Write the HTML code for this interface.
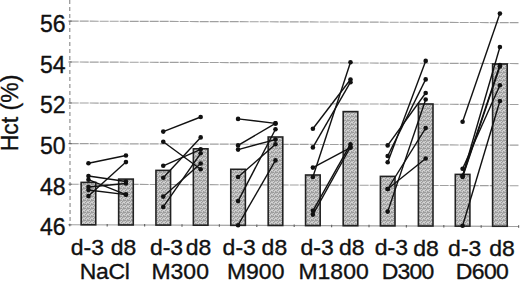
<!DOCTYPE html><html><head><meta charset="utf-8"><style>html,body{margin:0;padding:0;background:#fff;width:520px;height:282px;overflow:hidden}svg{display:block}text{font-family:"Liberation Sans",sans-serif;font-size:23px;fill:#111;stroke:#111;stroke-width:0.35px}</style></head><body>
<svg width="520" height="282" viewBox="0 0 520 282">
<defs><pattern id="st" width="4" height="4" patternUnits="userSpaceOnUse"><rect width="4" height="4" fill="#bbbbbb"/><rect x="0" y="0" width="1" height="1" fill="#9c9c9c"/><rect x="1" y="0" width="1" height="1" fill="#9c9c9c"/><rect x="3" y="0" width="1" height="1" fill="#9c9c9c"/><rect x="1" y="1" width="1" height="1" fill="#d4d4d4"/><rect x="2" y="1" width="1" height="1" fill="#9c9c9c"/><rect x="0" y="2" width="1" height="1" fill="#d4d4d4"/><rect x="1" y="2" width="1" height="1" fill="#9c9c9c"/><rect x="3" y="2" width="1" height="1" fill="#d4d4d4"/><rect x="2" y="3" width="1" height="1" fill="#d4d4d4"/><rect x="3" y="3" width="1" height="1" fill="#9c9c9c"/></pattern></defs>
<line x1="69.7" y1="21.10" x2="518.5" y2="22.67" stroke="#a0a0a0" stroke-width="1.15" stroke-dasharray="9 1"/>
<line x1="69.7" y1="62.00" x2="518.5" y2="63.57" stroke="#a0a0a0" stroke-width="1.15" stroke-dasharray="9 1"/>
<line x1="69.7" y1="102.95" x2="518.5" y2="104.52" stroke="#a0a0a0" stroke-width="1.15" stroke-dasharray="9 1"/>
<line x1="69.7" y1="143.60" x2="518.5" y2="145.17" stroke="#a0a0a0" stroke-width="1.15" stroke-dasharray="9 1"/>
<line x1="69.7" y1="184.20" x2="518.5" y2="185.77" stroke="#a0a0a0" stroke-width="1.15" stroke-dasharray="9 1"/>
<line x1="69.70" y1="0" x2="70.10" y2="224.75" stroke="#9a9a9a" stroke-width="1.3" stroke-dasharray="4 3"/>
<line x1="68.50" y1="21.10" x2="71.70" y2="21.10" stroke="#666" stroke-width="1.1"/>
<line x1="68.50" y1="62.00" x2="71.70" y2="62.00" stroke="#666" stroke-width="1.1"/>
<line x1="68.50" y1="102.95" x2="71.70" y2="102.95" stroke="#666" stroke-width="1.1"/>
<line x1="68.50" y1="143.60" x2="71.70" y2="143.60" stroke="#666" stroke-width="1.1"/>
<line x1="68.50" y1="184.20" x2="71.70" y2="184.20" stroke="#666" stroke-width="1.1"/>
<line x1="68.50" y1="224.75" x2="71.70" y2="224.75" stroke="#666" stroke-width="1.1"/>
<line x1="69.70" y1="224.75" x2="518.5" y2="226.32" stroke="#a0a0a0" stroke-width="1.2"/>
<line x1="69.80" y1="223.75" x2="69.80" y2="226.25" stroke="#666" stroke-width="1.2"/>
<line x1="107.20" y1="223.88" x2="107.20" y2="226.38" stroke="#666" stroke-width="1.2"/>
<line x1="144.60" y1="224.01" x2="144.60" y2="226.51" stroke="#666" stroke-width="1.2"/>
<line x1="182.00" y1="224.14" x2="182.00" y2="226.64" stroke="#666" stroke-width="1.2"/>
<line x1="219.40" y1="224.27" x2="219.40" y2="226.77" stroke="#666" stroke-width="1.2"/>
<line x1="256.80" y1="224.40" x2="256.80" y2="226.90" stroke="#666" stroke-width="1.2"/>
<line x1="294.20" y1="224.54" x2="294.20" y2="227.04" stroke="#666" stroke-width="1.2"/>
<line x1="331.60" y1="224.67" x2="331.60" y2="227.17" stroke="#666" stroke-width="1.2"/>
<line x1="369.00" y1="224.80" x2="369.00" y2="227.30" stroke="#666" stroke-width="1.2"/>
<line x1="406.40" y1="224.93" x2="406.40" y2="227.43" stroke="#666" stroke-width="1.2"/>
<line x1="443.80" y1="225.06" x2="443.80" y2="227.56" stroke="#666" stroke-width="1.2"/>
<line x1="481.20" y1="225.19" x2="481.20" y2="227.69" stroke="#666" stroke-width="1.2"/>
<line x1="518.60" y1="225.32" x2="518.60" y2="227.82" stroke="#666" stroke-width="1.2"/>
<rect x="81.15" y="182.40" width="14.60" height="42.42" fill="url(#st)" stroke="#222" stroke-width="1.6"/>
<rect x="118.66" y="179.10" width="14.60" height="45.85" fill="url(#st)" stroke="#222" stroke-width="1.6"/>
<rect x="155.96" y="170.40" width="14.60" height="54.68" fill="url(#st)" stroke="#222" stroke-width="1.6"/>
<rect x="193.37" y="148.80" width="14.60" height="76.41" fill="url(#st)" stroke="#222" stroke-width="1.6"/>
<rect x="230.77" y="169.30" width="14.60" height="56.04" fill="url(#st)" stroke="#222" stroke-width="1.6"/>
<rect x="268.18" y="137.00" width="14.60" height="88.47" fill="url(#st)" stroke="#222" stroke-width="1.6"/>
<rect x="305.58" y="175.00" width="14.60" height="50.60" fill="url(#st)" stroke="#222" stroke-width="1.6"/>
<rect x="343.19" y="111.60" width="14.60" height="114.13" fill="url(#st)" stroke="#222" stroke-width="1.6"/>
<rect x="380.39" y="176.40" width="14.60" height="49.46" fill="url(#st)" stroke="#222" stroke-width="1.6"/>
<rect x="418.39" y="104.00" width="14.60" height="122.00" fill="url(#st)" stroke="#222" stroke-width="1.6"/>
<rect x="455.30" y="174.40" width="14.60" height="51.73" fill="url(#st)" stroke="#222" stroke-width="1.6"/>
<rect x="492.61" y="64.00" width="14.60" height="162.26" fill="url(#st)" stroke="#222" stroke-width="1.6"/>
<line x1="88.45" y1="163.30" x2="125.95" y2="155.50" stroke="#111" stroke-width="1.4"/>
<line x1="88.45" y1="196.10" x2="125.95" y2="162.10" stroke="#111" stroke-width="1.4"/>
<line x1="88.45" y1="176.00" x2="125.95" y2="181.50" stroke="#111" stroke-width="1.4"/>
<line x1="88.45" y1="179.70" x2="125.95" y2="194.60" stroke="#111" stroke-width="1.4"/>
<line x1="88.45" y1="187.00" x2="125.95" y2="183.50" stroke="#111" stroke-width="1.4"/>
<line x1="88.45" y1="190.00" x2="125.95" y2="194.60" stroke="#111" stroke-width="1.4"/>
<circle cx="88.45" cy="163.30" r="2.3" fill="#111"/>
<circle cx="125.95" cy="155.50" r="2.3" fill="#111"/>
<circle cx="88.45" cy="196.10" r="2.3" fill="#111"/>
<circle cx="125.95" cy="162.10" r="2.3" fill="#111"/>
<circle cx="88.45" cy="176.00" r="2.3" fill="#111"/>
<circle cx="125.95" cy="181.50" r="2.3" fill="#111"/>
<circle cx="88.45" cy="179.70" r="2.3" fill="#111"/>
<circle cx="125.95" cy="194.60" r="2.3" fill="#111"/>
<circle cx="88.45" cy="187.00" r="2.3" fill="#111"/>
<circle cx="125.95" cy="183.50" r="2.3" fill="#111"/>
<circle cx="88.45" cy="190.00" r="2.3" fill="#111"/>
<circle cx="125.95" cy="194.60" r="2.3" fill="#111"/>
<line x1="163.26" y1="131.60" x2="200.67" y2="117.00" stroke="#111" stroke-width="1.4"/>
<line x1="163.26" y1="141.70" x2="200.67" y2="169.30" stroke="#111" stroke-width="1.4"/>
<line x1="163.26" y1="165.80" x2="200.67" y2="149.30" stroke="#111" stroke-width="1.4"/>
<line x1="163.26" y1="177.70" x2="200.67" y2="137.40" stroke="#111" stroke-width="1.4"/>
<line x1="163.26" y1="196.60" x2="200.67" y2="163.50" stroke="#111" stroke-width="1.4"/>
<line x1="163.26" y1="206.90" x2="200.67" y2="153.30" stroke="#111" stroke-width="1.4"/>
<circle cx="163.26" cy="131.60" r="2.3" fill="#111"/>
<circle cx="200.67" cy="117.00" r="2.3" fill="#111"/>
<circle cx="163.26" cy="141.70" r="2.3" fill="#111"/>
<circle cx="200.67" cy="169.30" r="2.3" fill="#111"/>
<circle cx="163.26" cy="165.80" r="2.3" fill="#111"/>
<circle cx="200.67" cy="149.30" r="2.3" fill="#111"/>
<circle cx="163.26" cy="177.70" r="2.3" fill="#111"/>
<circle cx="200.67" cy="137.40" r="2.3" fill="#111"/>
<circle cx="163.26" cy="196.60" r="2.3" fill="#111"/>
<circle cx="200.67" cy="163.50" r="2.3" fill="#111"/>
<circle cx="163.26" cy="206.90" r="2.3" fill="#111"/>
<circle cx="200.67" cy="153.30" r="2.3" fill="#111"/>
<line x1="238.07" y1="118.90" x2="275.48" y2="123.40" stroke="#111" stroke-width="1.4"/>
<line x1="238.07" y1="145.40" x2="275.48" y2="123.40" stroke="#111" stroke-width="1.4"/>
<line x1="238.07" y1="149.60" x2="275.48" y2="139.60" stroke="#111" stroke-width="1.4"/>
<line x1="238.07" y1="177.00" x2="275.48" y2="144.30" stroke="#111" stroke-width="1.4"/>
<line x1="238.07" y1="201.10" x2="275.48" y2="129.20" stroke="#111" stroke-width="1.4"/>
<line x1="238.07" y1="225.20" x2="275.48" y2="160.40" stroke="#111" stroke-width="1.4"/>
<circle cx="238.07" cy="118.90" r="2.3" fill="#111"/>
<circle cx="275.48" cy="123.40" r="2.3" fill="#111"/>
<circle cx="238.07" cy="145.40" r="2.3" fill="#111"/>
<circle cx="275.48" cy="123.40" r="2.3" fill="#111"/>
<circle cx="238.07" cy="149.60" r="2.3" fill="#111"/>
<circle cx="275.48" cy="139.60" r="2.3" fill="#111"/>
<circle cx="238.07" cy="177.00" r="2.3" fill="#111"/>
<circle cx="275.48" cy="144.30" r="2.3" fill="#111"/>
<circle cx="238.07" cy="201.10" r="2.3" fill="#111"/>
<circle cx="275.48" cy="129.20" r="2.3" fill="#111"/>
<circle cx="238.07" cy="225.20" r="2.3" fill="#111"/>
<circle cx="275.48" cy="160.40" r="2.3" fill="#111"/>
<line x1="312.88" y1="128.70" x2="350.49" y2="79.50" stroke="#111" stroke-width="1.4"/>
<line x1="312.88" y1="147.40" x2="350.49" y2="82.20" stroke="#111" stroke-width="1.4"/>
<line x1="312.88" y1="177.00" x2="350.49" y2="62.20" stroke="#111" stroke-width="1.4"/>
<line x1="312.88" y1="167.60" x2="350.49" y2="147.70" stroke="#111" stroke-width="1.4"/>
<line x1="312.88" y1="210.80" x2="350.49" y2="144.20" stroke="#111" stroke-width="1.4"/>
<line x1="312.88" y1="214.60" x2="350.49" y2="147.00" stroke="#111" stroke-width="1.4"/>
<circle cx="312.88" cy="128.70" r="2.3" fill="#111"/>
<circle cx="350.49" cy="79.50" r="2.3" fill="#111"/>
<circle cx="312.88" cy="147.40" r="2.3" fill="#111"/>
<circle cx="350.49" cy="82.20" r="2.3" fill="#111"/>
<circle cx="312.88" cy="177.00" r="2.3" fill="#111"/>
<circle cx="350.49" cy="62.20" r="2.3" fill="#111"/>
<circle cx="312.88" cy="167.60" r="2.3" fill="#111"/>
<circle cx="350.49" cy="147.70" r="2.3" fill="#111"/>
<circle cx="312.88" cy="210.80" r="2.3" fill="#111"/>
<circle cx="350.49" cy="144.20" r="2.3" fill="#111"/>
<circle cx="312.88" cy="214.60" r="2.3" fill="#111"/>
<circle cx="350.49" cy="147.00" r="2.3" fill="#111"/>
<line x1="387.69" y1="162.20" x2="425.69" y2="60.90" stroke="#111" stroke-width="1.4"/>
<line x1="387.69" y1="156.00" x2="425.69" y2="79.40" stroke="#111" stroke-width="1.4"/>
<line x1="387.69" y1="145.40" x2="425.69" y2="93.00" stroke="#111" stroke-width="1.4"/>
<line x1="387.69" y1="211.60" x2="425.69" y2="99.50" stroke="#111" stroke-width="1.4"/>
<line x1="387.69" y1="189.00" x2="425.69" y2="128.10" stroke="#111" stroke-width="1.4"/>
<line x1="387.69" y1="189.00" x2="425.69" y2="158.50" stroke="#111" stroke-width="1.4"/>
<circle cx="387.69" cy="162.20" r="2.3" fill="#111"/>
<circle cx="425.69" cy="60.90" r="2.3" fill="#111"/>
<circle cx="387.69" cy="156.00" r="2.3" fill="#111"/>
<circle cx="425.69" cy="79.40" r="2.3" fill="#111"/>
<circle cx="387.69" cy="145.40" r="2.3" fill="#111"/>
<circle cx="425.69" cy="93.00" r="2.3" fill="#111"/>
<circle cx="387.69" cy="211.60" r="2.3" fill="#111"/>
<circle cx="425.69" cy="99.50" r="2.3" fill="#111"/>
<circle cx="387.69" cy="189.00" r="2.3" fill="#111"/>
<circle cx="425.69" cy="128.10" r="2.3" fill="#111"/>
<circle cx="387.69" cy="189.00" r="2.3" fill="#111"/>
<circle cx="425.69" cy="158.50" r="2.3" fill="#111"/>
<line x1="462.60" y1="121.70" x2="499.91" y2="13.60" stroke="#111" stroke-width="1.4"/>
<line x1="462.60" y1="225.80" x2="499.91" y2="101.00" stroke="#111" stroke-width="1.4"/>
<line x1="462.60" y1="168.80" x2="499.91" y2="85.20" stroke="#111" stroke-width="1.4"/>
<line x1="462.60" y1="175.70" x2="499.91" y2="47.00" stroke="#111" stroke-width="1.4"/>
<line x1="462.60" y1="176.00" x2="499.91" y2="65.00" stroke="#111" stroke-width="1.4"/>
<line x1="462.60" y1="177.00" x2="499.91" y2="66.50" stroke="#111" stroke-width="1.4"/>
<circle cx="462.60" cy="121.70" r="2.3" fill="#111"/>
<circle cx="499.91" cy="13.60" r="2.3" fill="#111"/>
<circle cx="462.60" cy="225.80" r="2.3" fill="#111"/>
<circle cx="499.91" cy="101.00" r="2.3" fill="#111"/>
<circle cx="462.60" cy="168.80" r="2.3" fill="#111"/>
<circle cx="499.91" cy="85.20" r="2.3" fill="#111"/>
<circle cx="462.60" cy="175.70" r="2.3" fill="#111"/>
<circle cx="499.91" cy="47.00" r="2.3" fill="#111"/>
<circle cx="462.60" cy="176.00" r="2.3" fill="#111"/>
<circle cx="499.91" cy="65.00" r="2.3" fill="#111"/>
<circle cx="462.60" cy="177.00" r="2.3" fill="#111"/>
<circle cx="499.91" cy="66.50" r="2.3" fill="#111"/>
<text transform="translate(65.6,31.60) scale(1,1.000)" text-anchor="end">56</text>
<text transform="translate(65.6,72.50) scale(1,1.000)" text-anchor="end">54</text>
<text transform="translate(65.6,113.45) scale(1,1.000)" text-anchor="end">52</text>
<text transform="translate(65.6,154.10) scale(1,1.000)" text-anchor="end">50</text>
<text transform="translate(65.6,194.70) scale(1,1.000)" text-anchor="end">48</text>
<text transform="translate(65.6,235.25) scale(1,1.000)" text-anchor="end">46</text>
<text transform="translate(18.4,113.0) rotate(-90)" text-anchor="middle">Hct (%)</text>
<text transform="translate(70.70,254.89) scale(1,0.940)">d-3</text>
<text transform="translate(110.80,254.96) scale(1,0.940)">d8</text>
<text transform="translate(149.90,255.03) scale(1,0.940)">d-3</text>
<text transform="translate(185.80,255.09) scale(1,0.940)">d8</text>
<text transform="translate(222.60,255.16) scale(1,0.940)">d-3</text>
<text transform="translate(261.60,255.23) scale(1,0.940)">d8</text>
<text transform="translate(300.50,255.30) scale(1,0.940)">d-3</text>
<text transform="translate(338.90,255.37) scale(1,0.940)">d8</text>
<text transform="translate(374.80,255.43) scale(1,0.940)">d-3</text>
<text transform="translate(413.20,255.50) scale(1,0.940)">d8</text>
<text transform="translate(448.10,255.56) scale(1,0.940)">d-3</text>
<text transform="translate(489.30,255.64) scale(1,0.940)">d8</text>
<text transform="translate(79.70,278.70) scale(1,0.940)" textLength="50.12" lengthAdjust="spacing">NaCl</text>
<text transform="translate(151.40,278.85) scale(1,0.940)">M300</text>
<text transform="translate(226.90,279.00) scale(1,0.940)">M900</text>
<text transform="translate(298.40,279.14) scale(1,0.940)">M1800</text>
<text transform="translate(381.70,279.31) scale(1,0.940)" textLength="52.59" lengthAdjust="spacing">D300</text>
<text transform="translate(455.70,279.45) scale(1,0.940)" textLength="53.19" lengthAdjust="spacing">D600</text>
</svg></body></html>
